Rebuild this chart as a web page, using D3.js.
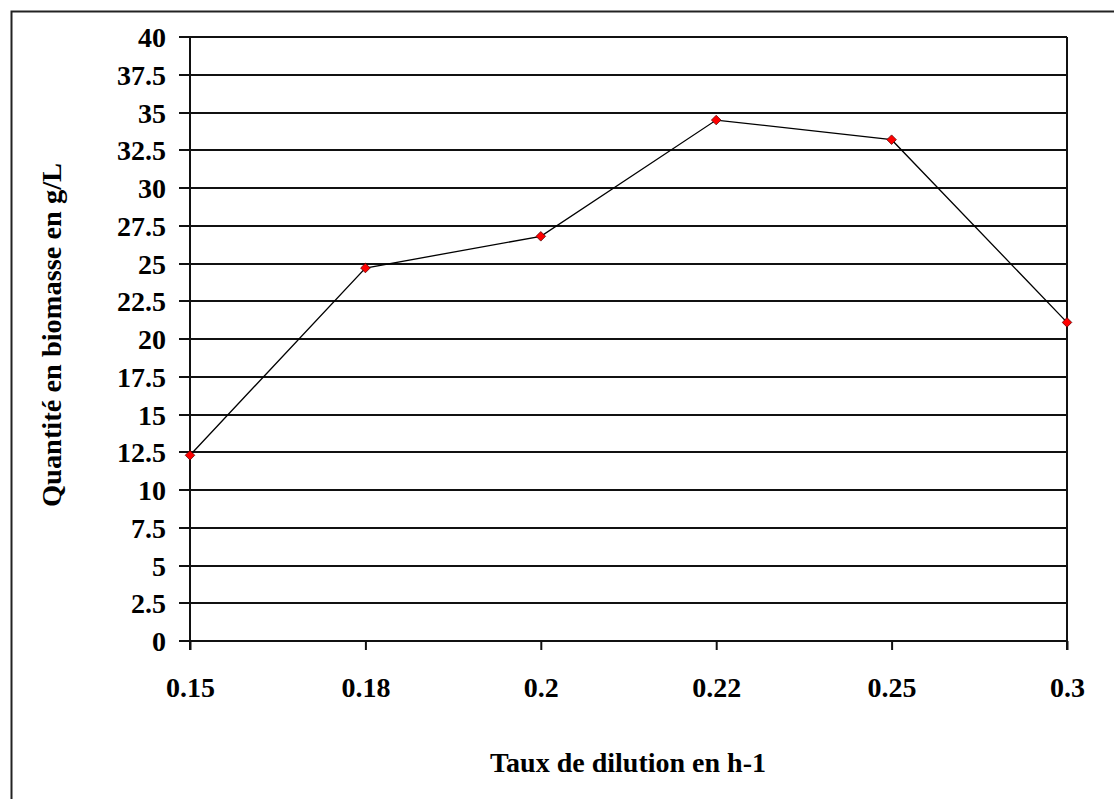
<!DOCTYPE html>
<html>
<head>
<meta charset="utf-8">
<script src="https://cdn.jsdelivr.net/npm/d3@7"></script>
<style>
  body { margin: 0; background: #fff; }
  svg { display: block; }
  .lbl { font-family: "Liberation Serif", "Times New Roman", serif; font-weight: bold; fill: #000; }
</style>
</head>
<body>
<div id="chart"></div>
<script>
// chart data
var dilution = ["0.15", "0.18", "0.2", "0.22", "0.25", "0.3"];
var biomasse = [12.3, 24.7, 26.8, 34.5, 33.2, 21.1];
var yTicks = [0, 2.5, 5, 7.5, 10, 12.5, 15, 17.5, 20, 22.5, 25, 27.5, 30, 32.5, 35, 37.5, 40];

var width = 1114, height = 799;
var plotLeft = 190, plotRight = 1067, plotTop = 37, plotBottom = 641;

var svg = d3.select("#chart").append("svg")
	.attr("width", width)
	.attr("height", height);

// outer frame (right and bottom edges run off the picture)
svg.append("rect")
	.attr("x", 11.5)
	.attr("y", 11.5)
	.attr("width", 1120)
	.attr("height", 820)
	.attr("fill", "#fff")
	.attr("stroke", "#222")
	.attr("stroke-width", 2);

var x = d3.scalePoint()
	.domain(dilution)
	.range([plotLeft, plotRight]);

var y = d3.scaleLinear()
	.domain([0, 40])
	.range([plotBottom, plotTop]);

// y axis + horizontal grid
var yAxis = d3.axisLeft(y)
	.tickValues(yTicks)
	.tickFormat(function(d) { return String(d); })
	.tickSize(-(plotRight - plotLeft))
	.tickSizeOuter(0);

var gy = svg.append("g")
	.attr("transform", "translate(" + plotLeft + ",0)")
	.call(yAxis);

gy.select(".domain").remove();
gy.selectAll(".tick")
	.attr("transform", function(d) { return "translate(0," + Math.round(y(d)) + ")"; });
gy.selectAll(".tick line")
	.attr("x1", -11)
	.attr("stroke", "#111")
	.attr("stroke-width", 2);
gy.selectAll(".tick text")
	.attr("class", "lbl")
	.attr("x", -24)
	.attr("dy", "0.34em")
	.style("font-size", "28px");

// left axis line
svg.append("line")
	.attr("x1", plotLeft).attr("x2", plotLeft)
	.attr("y1", plotTop).attr("y2", plotBottom + 9)
	.attr("stroke", "#111").attr("stroke-width", 2);

// x axis ticks and labels
var xAxis = d3.axisBottom(x)
	.tickSize(9)
	.tickSizeOuter(0);

var gx = svg.append("g")
	.attr("transform", "translate(0," + plotBottom + ")")
	.call(xAxis);

gx.select(".domain").remove();
gx.selectAll(".tick line")
	.attr("stroke", "#111")
	.attr("stroke-width", 2);
gx.selectAll(".tick text")
	.attr("class", "lbl")
	.attr("y", 46)
	.attr("dy", "0.34em")
	.style("font-size", "28px");

// right border of plot area
svg.append("line")
	.attr("x1", plotRight).attr("x2", plotRight)
	.attr("y1", plotTop).attr("y2", plotBottom + 9)
	.attr("stroke", "#111").attr("stroke-width", 2);

// series line
var line = d3.line()
	.x(function(d, i) { return x(dilution[i]); })
	.y(function(d) { return y(d); });

svg.append("path")
	.datum(biomasse)
	.attr("fill", "none")
	.attr("stroke", "#000")
	.attr("stroke-width", 1.3)
	.attr("d", line);

// markers: small square turned 45 degrees
svg.selectAll(".pt")
	.data(biomasse)
	.enter()
	.append("path")
	.attr("class", "pt")
	.attr("d", d3.symbol().type(d3.symbolSquare).size(46))
	.attr("transform", function(d, i) {
		return "translate(" + x(dilution[i]) + "," + y(d) + ") rotate(45)";
	})
	.attr("fill", "#ff0000")
	.attr("stroke", "#550000")
	.attr("stroke-width", 0.7);

// axis titles
svg.append("text")
	.attr("class", "lbl")
	.attr("x", 628)
	.attr("y", 763)
	.attr("dy", "0.34em")
	.attr("text-anchor", "middle")
	.style("font-size", "27px")
	.attr("textLength", 276)
	.attr("lengthAdjust", "spacingAndGlyphs")
	.text("Taux de dilution en h-1");

svg.append("text")
	.attr("class", "lbl")
	.attr("transform", "translate(52,335) rotate(-90)")
	.attr("dy", "0.34em")
	.attr("text-anchor", "middle")
	.style("font-size", "27px")
	.attr("textLength", 344)
	.attr("lengthAdjust", "spacingAndGlyphs")
	.text("Quantité en biomasse en g/L");
</script>
</body>
</html>
